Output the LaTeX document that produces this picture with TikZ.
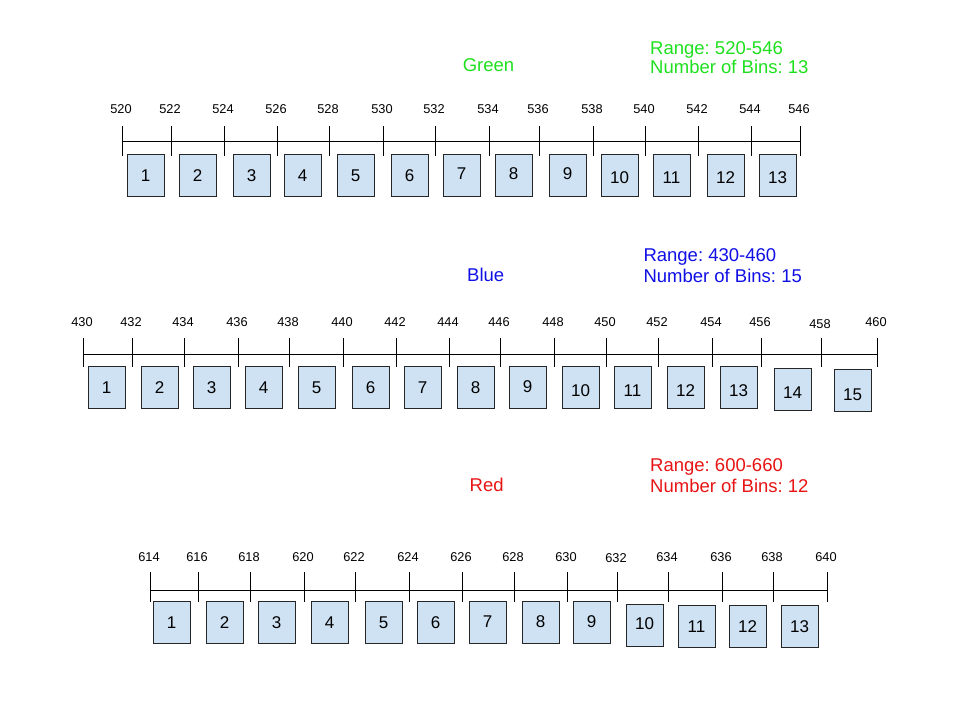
\documentclass[tikz,border=0pt]{standalone}
\usepackage{fontspec}
\setmainfont{Liberation Sans}
\frenchspacing
\definecolor{gcol}{HTML}{1EE01E}
\definecolor{bcol}{HTML}{1010E6}
\definecolor{rcol}{HTML}{E81414}
\definecolor{binfill}{HTML}{CFE2F3}
\definecolor{binline}{HTML}{262626}
\begin{document}
\begin{tikzpicture}[x=1pt,y=-1pt,
  tickline/.style={draw=black,line width=1pt},
  ticklabel/.style={anchor=base,inner sep=0pt,font=\fontsize{12.8}{15}\selectfont},
  bin/.style={draw=binline,fill=binfill,line width=1pt,minimum width=37pt,minimum height=42pt,inner sep=0pt,outer sep=0pt,anchor=north west,text depth=0pt,font=\fontsize{17}{20}\selectfont},
  head/.style={anchor=base,inner sep=0pt,font=\fontsize{18.5}{22}\selectfont},
  info/.style={anchor=base west,inner sep=0pt,font=\fontsize{18.5}{22}\selectfont\frenchspacing}]
\useasboundingbox (0,0) rectangle (960,720);
\fill[white] (0,0) rectangle (960,720);

% ---------- Green ----------
\node[head,text=gcol] (ghead) at (488.5,71) {Green};
\node[info,text=gcol] (grange) at (650,54.8) {Range: 520-546};
\node[info,text=gcol] (gnum) at (650,73.8) {Number of Bins: 13};
\draw[tickline] (122,141) -- (800,141);
\foreach \x/\v [count=\i] in {122/520,171/522,224/524,277/526,329/528,383/530,435/532,489/534,539/536,593/538,645/540,698/542,751/544,800/546}{
  \draw[tickline] (\x,126) -- (\x,156);
  \node[ticklabel] (gl\i) at (\x-1,113.3) {\v};
}
\foreach \l/\t/\n/\s in {127/154/1/0,179/154/2/0,233/154/3/0,284/154/4/0,337/154/5/0,391/154/6/0,443/154/7/-2,495/154/8/-2,549/154/9/-2,601/154/10/2,653/154/11/2,707/154/12/2,759/154/13/2}{
  \pgfmathsetmacro\th{12.2+2*\s}
  \node[bin,text height=\th pt] (g\n) at (\l,\t) {\n};
}

% ---------- Blue ----------
\node[head,text=bcol] (bhead) at (485.7,281.7) {Blue};
\node[info,text=bcol] (brange) at (643.3,261) {Range: 430-460};
\node[info,text=bcol] (bnum) at (643.3,282.3) {Number of Bins: 15};
\draw[tickline] (83,354.3) -- (877,354.3);
\foreach \x/\v/\y [count=\i] in {83/430/326.5,132/432/326.5,184/434/326.5,238/436/326.5,289/438/326.5,343/440/326.5,396/442/326.5,449/444/326.5,500/446/326.5,554/448/326.5,606/450/326.5,658/452/326.5,712/454/326.5,761/456/326.5,821/458/328.3,877/460/326.5}{
  \draw[tickline] (\x,338) -- (\x,367);
  \node[ticklabel] (bl\i) at (\x-1,\y) {\v};
}
\foreach \l/\t/\n/\s in {88/366.5/1/0,141/366.5/2/0,193/366.5/3/0,245/366.5/4/0,298/366.5/5/0,352/366.5/6/0,404/366.5/7/0,457/366.5/8/0,509/366.5/9/-1.5,562/366.5/10/3,614/366.5/11/3,667/366.5/12/3,720/366.5/13/3,774/368/14/3,834/369.5/15/3.5}{
  \pgfmathsetmacro\th{12.2+2*\s}
  \node[bin,text height=\th pt] (b\n) at (\l,\t) {\n};
}

% ---------- Red ----------
\node[head,text=rcol] (rhead) at (486.7,491.7) {Red};
\node[info,text=rcol] (rrange) at (650,471) {Range: 600-660};
\node[info,text=rcol] (rnum) at (650,492.3) {Number of Bins: 12};
\draw[tickline] (150,590) -- (827,590);
\foreach \x/\v/\y [count=\i] in {150/614/561,198/616/561,250/618/561,304/620/561,355/622/561,409/624/561,462/626/561,514/628/561,567/630/561,617/632/562.7,668/634/561,722/636/561,773/638/561,827/640/561}{
  \draw[tickline] (\x,572) -- (\x,602);
  \node[ticklabel] (rl\i) at (\x-1,\y) {\v};
}
\foreach \l/\t/\n/\s in {153/601/1/0,206/601/2/0,258/601/3/0,311/601/4/0,365/601/5/0,417/601/6/0,469/601/7/-1,522/601/8/-1,573/601/9/-1,626/604.5/10/-2,678/605/11/0,729/605/12/0,781/605/13/0}{
  \pgfmathsetmacro\th{12.2+2*\s}
  \node[bin,text height=\th pt] (r\n) at (\l,\t) {\n};
}
\end{tikzpicture}
\end{document}
